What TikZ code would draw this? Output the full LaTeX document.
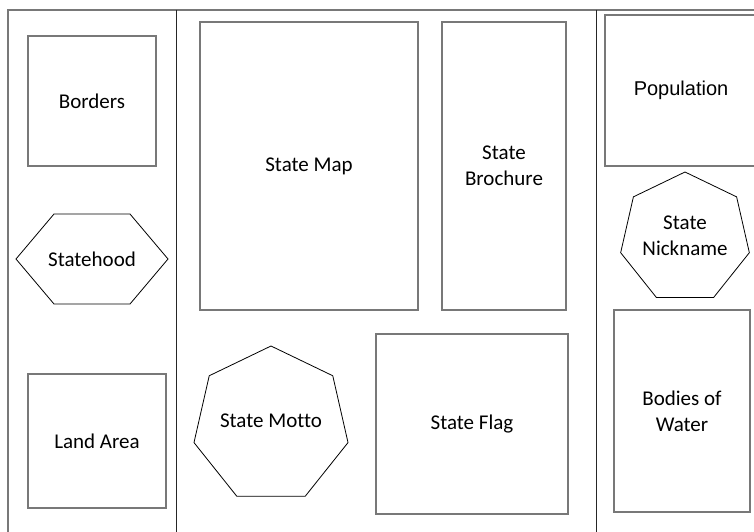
\documentclass[tikz,border=0pt]{standalone}
\usepackage{fontspec}
\setmainfont{Carlito}[Ligatures=NoCommon]
\newfontfamily\arialfont{Liberation Sans}
\usetikzlibrary{shapes.geometric}
\definecolor{boxgray}{RGB}{120,120,120}
\begin{document}
\begin{tikzpicture}[x=1pt,y=-1pt,
  box/.style={draw=boxgray,line width=1.3pt,inner sep=0pt,align=center,font=\fontsize{21}{26}\selectfont},
  poly/.style={draw=black,line width=0.8pt,inner sep=0pt},
  lbl/.style={align=center,font=\fontsize{21}{26}\selectfont,inner sep=0pt},
  frameline/.style={draw=boxgray,line width=1.3pt},
  divider/.style={draw=black!85,line width=1pt}]
\useasboundingbox (0,0) rectangle (754,532);
\fill[white] (0,0) rectangle (754,532);
% frame and dividers
\draw[frameline] (8,532) -- (8,10) -- (754,10);
\draw[divider] (176,10) -- (176,532);
\draw[divider] (596,10) -- (596,532);
% left column
\node[box,minimum width=128pt,minimum height=130pt] (borders) at (92,101) {Borders};
\draw[poly] (16,259) -- (54,214) -- (130,214) -- (168,259) -- (130,304) -- (54,304) -- cycle;
\node[lbl] (statehood) at (92,259) {Statehood};
\node[box,minimum width=138pt,minimum height=134pt] (landarea) at (97,441) {Land Area};
% middle column
\node[box,minimum width=218pt,minimum height=288pt] (statemap) at (309,166) {\raisebox{-2pt}{State Map}};
\node[box,minimum width=124pt,minimum height=288pt] (brochure) at (504,166) {State\\Brochure};
\node[poly,regular polygon,regular polygon sides=7,minimum size=158pt] (motto) at (271,425) {};
\node[lbl] (mottotext) at (271,421) {State Motto};
\node[box,minimum width=192pt,minimum height=180pt] (flag) at (472,424) {State Flag};
% right column
\node[box,minimum width=152pt,minimum height=151pt,font=\arialfont\fontsize{20}{24}\selectfont] (population) at (681,90.5) {\raisebox{-3pt}{Population}};
\node[poly,regular polygon,regular polygon sides=7,minimum size=132pt] (nickname) at (685,238) {};
\node[lbl] (nicknametext) at (685,236) {State\\Nickname};
\node[box,minimum width=136pt,minimum height=202pt] (bodies) at (682,411) {Bodies of\\Water};
\end{tikzpicture}
\end{document}
